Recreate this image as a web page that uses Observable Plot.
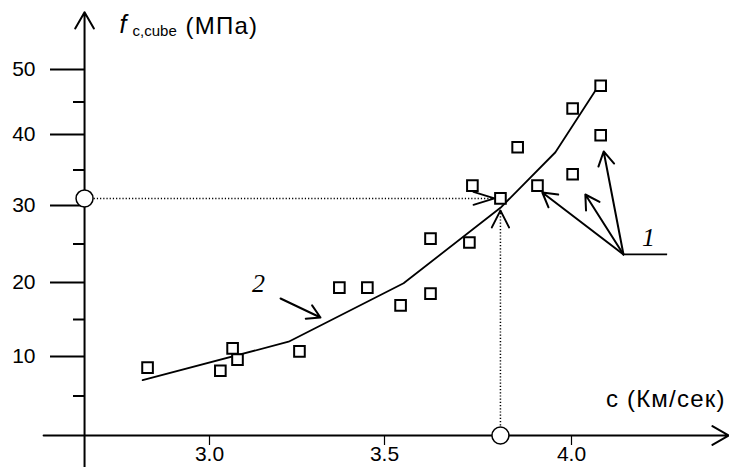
<!DOCTYPE html>
<html><head><meta charset="utf-8">
<script src="https://cdn.jsdelivr.net/npm/d3@7"></script>
<script src="https://cdn.jsdelivr.net/npm/@observablehq/plot@0.6"></script>
<style>body{margin:0;background:#fff}</style>
</head><body><div id="chart"></div>
<script>
// ---- tick values ----
const xTicks = [3.0, 3.5, 4.0];
const yMajor = [10, 20, 30, 40, 50];
const yMinor = [5, 15, 25, 35, 45];

// ---- measured points (1): pulse velocity c, km/s  vs  cube strength, MPa ----
const velocity = [2.823, 3.031, 3.066, 3.080, 3.257, 3.371, 3.451, 3.543, 3.623, 3.623,
                  3.727, 3.735, 3.810, 3.856, 3.909, 4.003, 4.003, 4.078, 4.078];
const strength = [8.6, 8.2, 11.1, 9.6, 10.7, 19.3, 19.3, 16.9, 18.5, 25.7,
                  25.2, 32.8, 31.0, 38.2, 32.8, 34.4, 44.0, 47.5, 39.9];

// ---- calibration curve (2) ----
const curveC = [2.809, 3.226, 3.551, 3.810, 3.957, 4.078];
const curveF = [7.0, 12.0, 19.9, 29.7, 37.5, 48.0];

// ---- reading example ----
const readC = 3.81, readF = 31.0;
const readTipC = 3.794, readTipF = 29.35;

// ---- axis extents (data units) ----
const axisC = 2.643;
const xAxisFrom = 2.526, xAxisTo = 4.42;
const yAxisFrom = -4.1, yAxisTo = 58.8;

// ---- annotation pointers ----
const ptr1C = 4.139, ptr1F = 23.64, ptr1EndC = 4.257;
const ptr1TipC = [3.922, 4.037, 4.086];
const ptr1TipF = [31.83, 31.55, 37.61];
const ptr2 = {c1: 3.203, f1: 17.84, c2: 3.317, f2: 15.27};
const label1 = {c: 4.206, f: 25.84, t: "1"};
const label2 = {c: 3.14, f: 19.86, t: "2"};

const yTitleParts = ["f", "c,cube", "(МПа)"];
const xTitle = "c (Км/сек)";

const points = velocity.map((c, i) => ({c, f: strength[i]}));
const curve = curveC.map((c, i) => ({c, f: curveF[i]}));
const ptr1 = ptr1TipC.map((c, i) => ({c1: ptr1C, f1: ptr1F, c2: c, f2: ptr1TipF[i]}));

const chevron = (half) => ({
  draw(context, l) {
    const w = l * Math.tan(half * Math.PI / 180);
    context.moveTo(-w, l); context.lineTo(0, 0); context.lineTo(w, l);
  }
});

const chart = Plot.plot({
  width: 729, height: 467,
  marginLeft: 84, marginTop: 12, marginRight: 1, marginBottom: 32,
  style: {fontFamily: "'Liberation Sans', Arial, sans-serif", fontSize: "21px", background: "white", color: "black"},
  x: {type: "linear", domain: [3.0, 3.5, 4.0], range: [209, 384, 571]},
  y: {type: "linear", domain: [0, 10, 20, 30, 40, 50], range: [435, 356, 282, 205, 134, 69]},
  marks: [
    // axes lines with arrows
    Plot.arrow([{c1: xAxisFrom, f1: 0, c2: xAxisTo, f2: 0}], {x1: "c1", y1: "f1", x2: "c2", y2: "f2", stroke: "black", strokeWidth: 2, headLength: 14, headAngle: 60}),
    Plot.arrow([{c1: axisC, f1: yAxisFrom, c2: axisC, f2: yAxisTo}], {x1: "c1", y1: "f1", x2: "c2", y2: "f2", stroke: "black", strokeWidth: 2, headLength: 14, headAngle: 60}),
    Plot.axisX(xTicks, {anchor: "bottom", tickSize: 10, tickPadding: 1, tickFormat: d => d.toFixed(1), strokeWidth: 1.2, label: null, fontSize: 21}),
    Plot.axisY(yMajor, {anchor: "left", tickSize: 34, tickPadding: 15, label: null, strokeWidth: 2, fontSize: 21}),
    Plot.axisY(yMinor, {anchor: "left", tickSize: 11, tickFormat: () => "", label: null, strokeWidth: 2}),
    // reading lines (dotted)
    Plot.ruleY([readF], {x1: axisC, x2: readTipC, stroke: "black", strokeWidth: 1.5, strokeDasharray: "1.2,2"}),
    Plot.ruleX([readC], {y1: 0, y2: readTipF, stroke: "black", strokeWidth: 1.5, strokeDasharray: "1.2,2"}),
    Plot.vector([{c: readTipC, f: readF}], {x: "c", y: "f", rotate: 90, length: 21, anchor: "start", shape: chevron(17), stroke: "black", strokeWidth: 1.8}),
    Plot.vector([{c: readC, f: readTipF}], {x: "c", y: "f", rotate: 0, length: 17, anchor: "start", shape: chevron(27), stroke: "black", strokeWidth: 1.8}),
    // curve 2
    Plot.line(curve, {x: "c", y: "f", stroke: "black", strokeWidth: 1.8}),
    // pointers
    Plot.ruleY([ptr1F], {x1: ptr1C, x2: ptr1EndC, stroke: "black", strokeWidth: 1.8}),
    Plot.arrow(ptr1, {x1: "c1", y1: "f1", x2: "c2", y2: "f2", stroke: "black", strokeWidth: 2, headLength: 12, headAngle: 60}),
    Plot.arrow([ptr2], {x1: "c1", y1: "f1", x2: "c2", y2: "f2", stroke: "black", strokeWidth: 2, headLength: 12, headAngle: 60}),
    // points 1
    Plot.dot(points, {x: "c", y: "f", symbol: "square", r: 6, fill: "white", stroke: "black", strokeWidth: 2}),
    // reading circles
    Plot.dot([{c: axisC, f: readF}, {c: readC, f: 0}], {x: "c", y: "f", r: 8.5, fill: "white", stroke: "black", strokeWidth: 1.5}),
    // labels
    Plot.text([label1, label2], {x: "c", y: "f", text: "t", fontFamily: "'Liberation Serif', 'Times New Roman', serif", fontStyle: "italic", fontSize: 26}),
    Plot.text([{c: axisC, f: yAxisTo}], {x: "c", y: "f", text: () => yTitleParts[0], dx: 35, dy: 21, textAnchor: "start", lineAnchor: "bottom", fontStyle: "italic", fontSize: 25}),
    Plot.text([{c: axisC, f: yAxisTo}], {x: "c", y: "f", text: () => yTitleParts[1], dx: 48, dy: 24, textAnchor: "start", lineAnchor: "bottom", fontSize: 15}),
    Plot.text([{c: axisC, f: yAxisTo}], {x: "c", y: "f", text: () => yTitleParts[2], dx: 101, dy: 22, textAnchor: "start", lineAnchor: "bottom", fontSize: 24}),
    Plot.text([{c: xAxisTo, f: 0}], {x: "c", y: "f", text: () => xTitle, dx: -3, dy: -29, textAnchor: "end", lineAnchor: "bottom", fontSize: 24})
  ]
});
// the original lettering is set wider than Liberation Sans
d3.select(chart).selectAll("text")
  .filter(function() { return this.textContent === xTitle || this.textContent === yTitleParts[2]; })
  .attr("letter-spacing", "1.2px");
document.getElementById("chart").append(chart);
</script>
</body></html>
